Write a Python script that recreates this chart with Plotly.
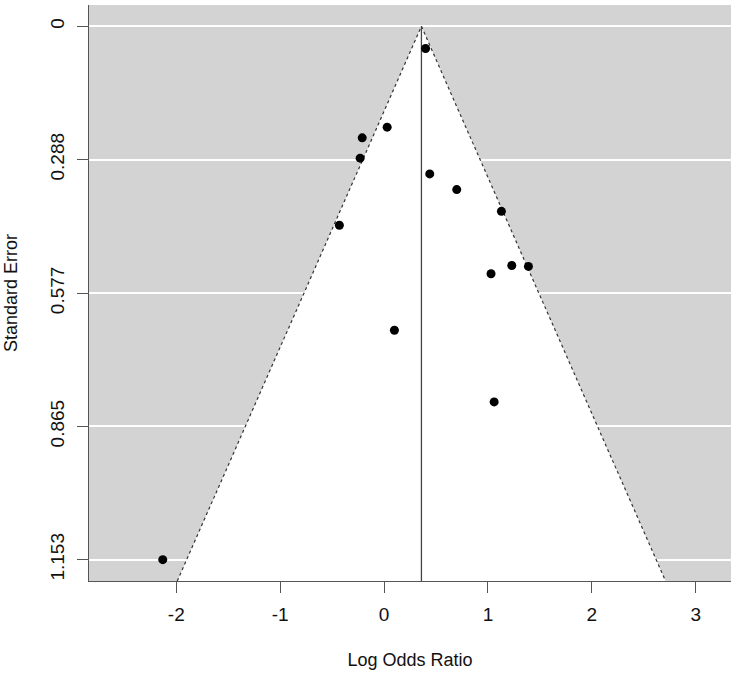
import plotly.graph_objects as go

# Study data: log odds ratio and standard error
log_odds_ratio = [0.40, 0.03, -0.21, -0.23, 0.44, 0.70, 1.13, -0.43, 1.23, 1.39, 1.03, 0.10, 1.06, -2.13]
standard_error = [0.048, 0.218, 0.241, 0.285, 0.319, 0.353, 0.400, 0.430, 0.517, 0.519, 0.535, 0.657, 0.812, 1.153]

pooled_estimate = 0.36
z_crit = 1.96

y_ticks = [0, 0.288, 0.577, 0.865, 1.153]
y_tick_labels = ["0", "0.288", "0.577", "0.865", "1.153"]
x_ticks = [-2, -1, 0, 1, 2, 3]
x_tick_labels = ["-2", "-1", "0", "1", "2", "3"]

se_max = max(standard_error)
y_bottom = se_max * 1.04
y_top = -se_max * 0.04
x_range = [-2.84, 3.34]

fig = go.Figure()

# white funnel region
fx = [pooled_estimate - z_crit * y_bottom, pooled_estimate, pooled_estimate + z_crit * y_bottom]
fy = [y_bottom, 0, y_bottom]
fig.add_trace(go.Scatter(x=fx + [fx[0]], y=fy + [fy[0]], mode="lines", fill="toself",
                         fillcolor="white", line=dict(width=0), hoverinfo="skip", showlegend=False))
# dotted funnel edges
fig.add_trace(go.Scatter(x=fx, y=fy, mode="lines",
                         line=dict(color="#333333", width=1.2, dash="dot"),
                         hoverinfo="skip", showlegend=False))
# vertical estimate line
fig.add_trace(go.Scatter(x=[pooled_estimate, pooled_estimate], y=[0, y_bottom], mode="lines",
                         line=dict(color="#444444", width=1.3), hoverinfo="skip", showlegend=False))
# study points
fig.add_trace(go.Scatter(x=log_odds_ratio, y=standard_error, mode="markers",
                         marker=dict(color="black", size=9), showlegend=False))

font = dict(family="Liberation Sans, Arial, sans-serif", size=18, color="#111111")
tick_font = dict(family="Liberation Sans, Arial, sans-serif", size=19, color="#111111")

fig.update_layout(
    width=737, height=676,
    margin=dict(l=89, r=6, t=5, b=95),
    paper_bgcolor="white",
    plot_bgcolor="#d3d3d3",
    font=font,
    showlegend=False,
    xaxis=dict(
        range=x_range, tickvals=x_ticks, ticktext=x_tick_labels,
        showgrid=False, zeroline=False, automargin=False,
        showline=True, linecolor="#555555", linewidth=1.2,
        ticks="outside", ticklen=11, tickcolor="#555555", tickwidth=1.2,
        tickfont=tick_font, ticklabelstandoff=5,
        title=dict(text="Log Odds Ratio", standoff=29, font=font),
    ),
    yaxis=dict(
        range=[y_bottom, y_top], tickvals=y_ticks, ticktext=y_tick_labels,
        showgrid=True, gridcolor="white", gridwidth=1.5, zeroline=False, automargin=False,
        showline=True, linecolor="#555555", linewidth=1.2,
        ticks="outside", ticklen=11, tickcolor="#555555", tickwidth=1.2,
        tickangle=-90, tickfont=tick_font, ticklabelstandoff=5,
        title=dict(text="Standard Error", standoff=24, font=font),
    ),
)

fig.write_html("out.html", config={"displayModeBar": False},
               post_script="document.body.style.margin='0';")
